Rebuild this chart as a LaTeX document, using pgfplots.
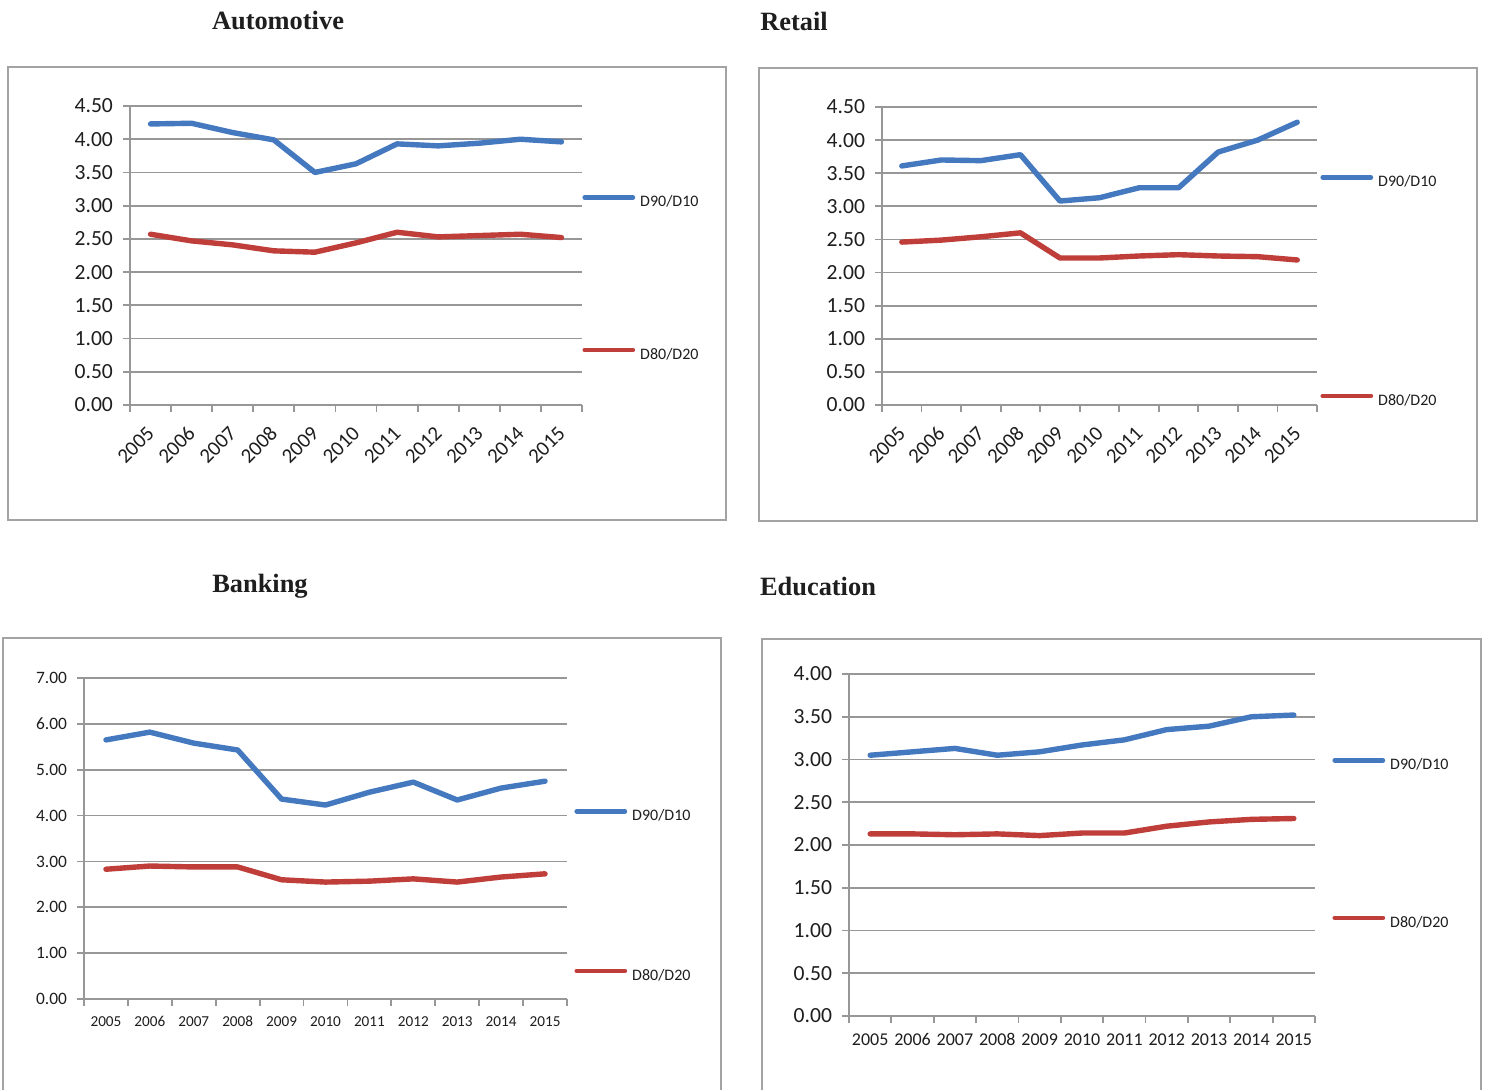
\documentclass[border=0pt]{standalone}
\usepackage{fontspec}
\setmainfont{Carlito}
\newfontfamily\titlefont{Liberation Serif}
\usepackage{pgfplots}
\usepackage{pgfplotstable}
\pgfplotsset{compat=1.18}

\definecolor{serblue}{HTML}{4479C0}
\definecolor{serred}{HTML}{BF3E3A}
\definecolor{gridgray}{HTML}{979797}
\definecolor{framegray}{HTML}{A3A3A3}
\definecolor{txt}{HTML}{1E1E1E}

% year D90/D10 D80/D20
\pgfplotstableread{
yr d90 d80
2005 4.23 2.57
2006 4.24 2.47
2007 4.10 2.41
2008 3.99 2.32
2009 3.50 2.30
2010 3.63 2.44
2011 3.93 2.60
2012 3.90 2.53
2013 3.94 2.55
2014 4.00 2.57
2015 3.96 2.52
}\automotive

\pgfplotstableread{
yr d90 d80
2005 3.61 2.46
2006 3.70 2.49
2007 3.69 2.54
2008 3.78 2.60
2009 3.08 2.22
2010 3.13 2.22
2011 3.28 2.25
2012 3.28 2.27
2013 3.82 2.25
2014 4.00 2.24
2015 4.27 2.19
}\retail

\pgfplotstableread{
yr d90 d80
2005 5.65 2.83
2006 5.82 2.90
2007 5.58 2.88
2008 5.43 2.88
2009 4.36 2.60
2010 4.23 2.55
2011 4.51 2.57
2012 4.73 2.62
2013 4.34 2.55
2014 4.60 2.66
2015 4.75 2.73
}\banking

\pgfplotstableread{
yr d90 d80
2005 3.05 2.13
2006 3.09 2.13
2007 3.13 2.12
2008 3.05 2.13
2009 3.09 2.11
2010 3.17 2.14
2011 3.23 2.14
2012 3.35 2.22
2013 3.39 2.27
2014 3.50 2.30
2015 3.52 2.31
}\education

\pgfplotsset{
  panel/.style={
    scale only axis,
    anchor=south west,
    xmin=2004.5, xmax=2015.5,
    ymin=0,
    axis lines*=left,
    axis line style={gridgray, line width=0.9pt},
    ymajorgrids,
    grid style={gridgray, line width=0.9pt},
    tick align=outside,
    major tick length=3.5pt,
    tick style={gridgray, line width=0.9pt},
    xtick={2004.5,2005.5,...,2015.5},
    xticklabels={},
    extra x ticks={2005,2006,...,2015},
    extra x tick labels={2005,2006,2007,2008,2009,2010,2011,2012,2013,2014,2015},
    extra x tick style={tick style={draw=none}},
    /pgf/number format/assume math mode=true,
    yticklabel style={/pgf/number format/fixed, /pgf/number format/fixed zerofill, /pgf/number format/precision=2, xshift=-1.5pt},
    ticklabel style={text=txt},
    legend cell align=left,
    legend image code/.code={\draw[##1, line width=2.4pt, line cap=round] (1.2pt,2.6pt) -- (25.2pt,2.6pt);},
    legend style={draw=none, fill=none, inner sep=0pt, column sep=2.5pt, anchor=west, yshift=-2.75pt,
      font=\fontsize{8}{9}\selectfont,
      nodes={inner sep=0pt, text=txt, text height=5.5pt, text depth=1.5pt}},
  },
  rotyears/.style={xticklabel style={font=\fontsize{10.4}{12}\selectfont, text height=6.8pt, text depth=0pt,
    xshift=2.5pt, yshift=-6.5pt, rotate=45, anchor=east}},
  d90/.style={serblue, line width=2.7pt, line join=round, line cap=round},
  d80/.style={serred, line width=2.7pt, line join=round, line cap=round},
}

\begin{document}
\begin{tikzpicture}
\useasboundingbox (0pt,0pt) rectangle (743pt,-545pt);
\clip (0pt,0pt) rectangle (743pt,-545pt);
\fill[white] (0pt,0pt) rectangle (743pt,-545pt);

% frames
\draw[framegray, line width=1pt] (4pt,-33.5pt) rectangle (363pt,-260pt);
\draw[framegray, line width=1pt] (379.5pt,-34pt) rectangle (738.5pt,-260.5pt);
\draw[framegray, line width=1pt] (1.5pt,-319pt) rectangle (360.5pt,-560pt);
\draw[framegray, line width=1pt] (381pt,-319.5pt) rectangle (740.5pt,-560pt);

% titles
\node[font=\titlefont\fontsize{13.2}{15}\selectfont\bfseries, text=txt] at (139pt,-10.5pt) {Automotive};
\node[font=\titlefont\fontsize{13.2}{15}\selectfont\bfseries, text=txt] at (397pt,-10.5pt) {Retail};
\node[font=\titlefont\fontsize{13.2}{15}\selectfont\bfseries, text=txt] at (130pt,-293pt) {Banking};
\node[font=\titlefont\fontsize{13.2}{15}\selectfont\bfseries, text=txt] at (409pt,-293pt) {Education};

% Automotive
\begin{axis}[panel, rotyears, at={(65pt,-202.5pt)}, width=226pt, height=149.5pt,
  ymax=4.5, ytick={0,0.5,...,4.5},
  yticklabel style={font=\fontsize{10.8}{12}\selectfont},
  legend style={at={(1,0.441)}, row sep=69pt}]
\addplot[d90] table[x=yr, y=d90] {\automotive};
\addlegendentry{D90/D10}
\addplot[d80] table[x=yr, y=d80] {\automotive};
\addlegendentry{D80/D20}
\end{axis}

% Retail
\begin{axis}[panel, rotyears, at={(441pt,-202.5pt)}, width=217.5pt, height=149pt,
  ymax=4.5, ytick={0,0.5,...,4.5},
  yticklabel style={font=\fontsize{10.8}{12}\selectfont},
  legend style={at={(1,0.399)}, xshift=1.5pt, row sep=102pt}]
\addplot[d90] table[x=yr, y=d90] {\retail};
\addlegendentry{D90/D10}
\addplot[d80] table[x=yr, y=d80] {\retail};
\addlegendentry{D80/D20}
\end{axis}

% Banking
\begin{axis}[panel, at={(42pt,-499.5pt)}, width=241.5pt, height=160.5pt,
  ymax=7, ytick={0,1,...,7},
  yticklabel style={font=\fontsize{8.7}{10}\selectfont},
  xticklabel style={font=\fontsize{7.6}{9}\selectfont, text height=5pt, text depth=0pt, yshift=-1.5pt},
  legend style={at={(1,0.338)}, xshift=3.5pt, row sep=72.5pt}]
\addplot[d90] table[x=yr, y=d90] {\banking};
\addlegendentry{D90/D10}
\addplot[d80] table[x=yr, y=d80] {\banking};
\addlegendentry{D80/D20}
\end{axis}

% Education
\begin{axis}[panel, at={(424.5pt,-508pt)}, width=233pt, height=171pt,
  ymax=4, ytick={0,0.5,...,4},
  yticklabel style={font=\fontsize{10.8}{12}\selectfont},
  xticklabel style={font=\fontsize{9}{11}\selectfont, text height=6pt, text depth=0pt, yshift=-1.5pt},
  legend style={at={(1,0.519)}, xshift=8.5pt, row sep=71.5pt}]
\addplot[d90] table[x=yr, y=d90] {\education};
\addlegendentry{D90/D10}
\addplot[d80] table[x=yr, y=d80] {\education};
\addlegendentry{D80/D20}
\end{axis}
\end{tikzpicture}
\end{document}
